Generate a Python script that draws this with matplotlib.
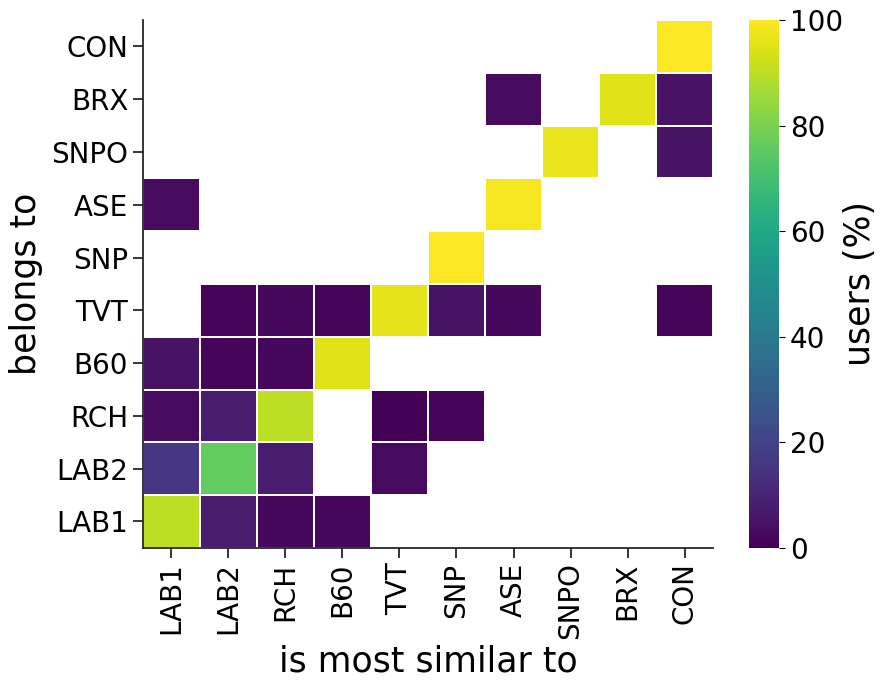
import numpy as np
import matplotlib
matplotlib.use('Agg')
import matplotlib.pyplot as plt

# categories (columns left->right, rows top->bottom)
cols = ['LAB1', 'LAB2', 'RCH', 'B60', 'TVT', 'SNP', 'ASE', 'SNPO', 'BRX', 'CON']
rows = ['CON', 'BRX', 'SNPO', 'ASE', 'SNP', 'TVT', 'B60', 'RCH', 'LAB2', 'LAB1']

n = np.nan
# percentage of users, one list per row (empty cell = nan)
con = [n, n, n, n, n, n, n, n, n, 99.5]
brx = [n, n, n, n, n, n, 3, n, 95, 5]
snpo = [n, n, n, n, n, n, n, 97, n, 5]
ase = [3, n, n, n, n, n, 98.5, n, n, n]
snp = [n, n, n, n, n, 99.5, n, n, n, n]
tvt = [n, 1, 2, 1, 96, 5, 2, n, n, 1]
b60 = [5, 1, 2, 95, n, n, n, n, n, n]
rch = [3, 8, 90, n, 0.5, 1, n, n, n, n]
lab2 = [16, 76, 8, n, 3, n, n, n, n, n]
lab1 = [90, 8, 2, 2, n, n, n, n, n, n]

values = np.array([con, brx, snpo, ase, snp, tvt, b60, rch, lab2, lab1])

plt.rcParams['font.family'] = ['DejaVu Sans']
fig = plt.figure(figsize=(8.87, 6.9), dpi=100)
ax = fig.add_axes([0.161, 0.206, 0.643, 0.765])
cax = fig.add_axes([0.8445, 0.206, 0.034, 0.765])

data = np.ma.masked_invalid(values)
mesh = ax.pcolormesh(data, cmap='viridis', vmin=0, vmax=100,
                     edgecolors='white', linewidth=1.2)
ax.set_xlim(0, len(cols))
ax.set_ylim(len(rows), 0)
ax.set_xticks(np.arange(len(cols)) + 0.5)
ax.set_xticklabels(cols, rotation=90)
ax.set_yticks(np.arange(len(rows)) + 0.5)
ax.set_yticklabels(rows)
ax.tick_params(labelsize=20, length=7, width=1.3, color='#262626')
for s in ['top', 'right']:
    ax.spines[s].set_visible(False)
for s in ['left', 'bottom']:
    ax.spines[s].set_linewidth(1.3)
    ax.spines[s].set_color('#262626')
ax.set_xlabel('is most similar to', fontsize=25, labelpad=4)
ax.set_ylabel('belongs to', fontsize=25, labelpad=6)

cb = fig.colorbar(mesh, cax=cax)
cb.outline.set_visible(False)
cb.set_ticks([0, 20, 40, 60, 80, 100])
cb.ax.tick_params(labelsize=20, length=4, width=0.8)
cb.set_label('users (%)', fontsize=25, labelpad=0)

fig.savefig('out.png', dpi=100)
